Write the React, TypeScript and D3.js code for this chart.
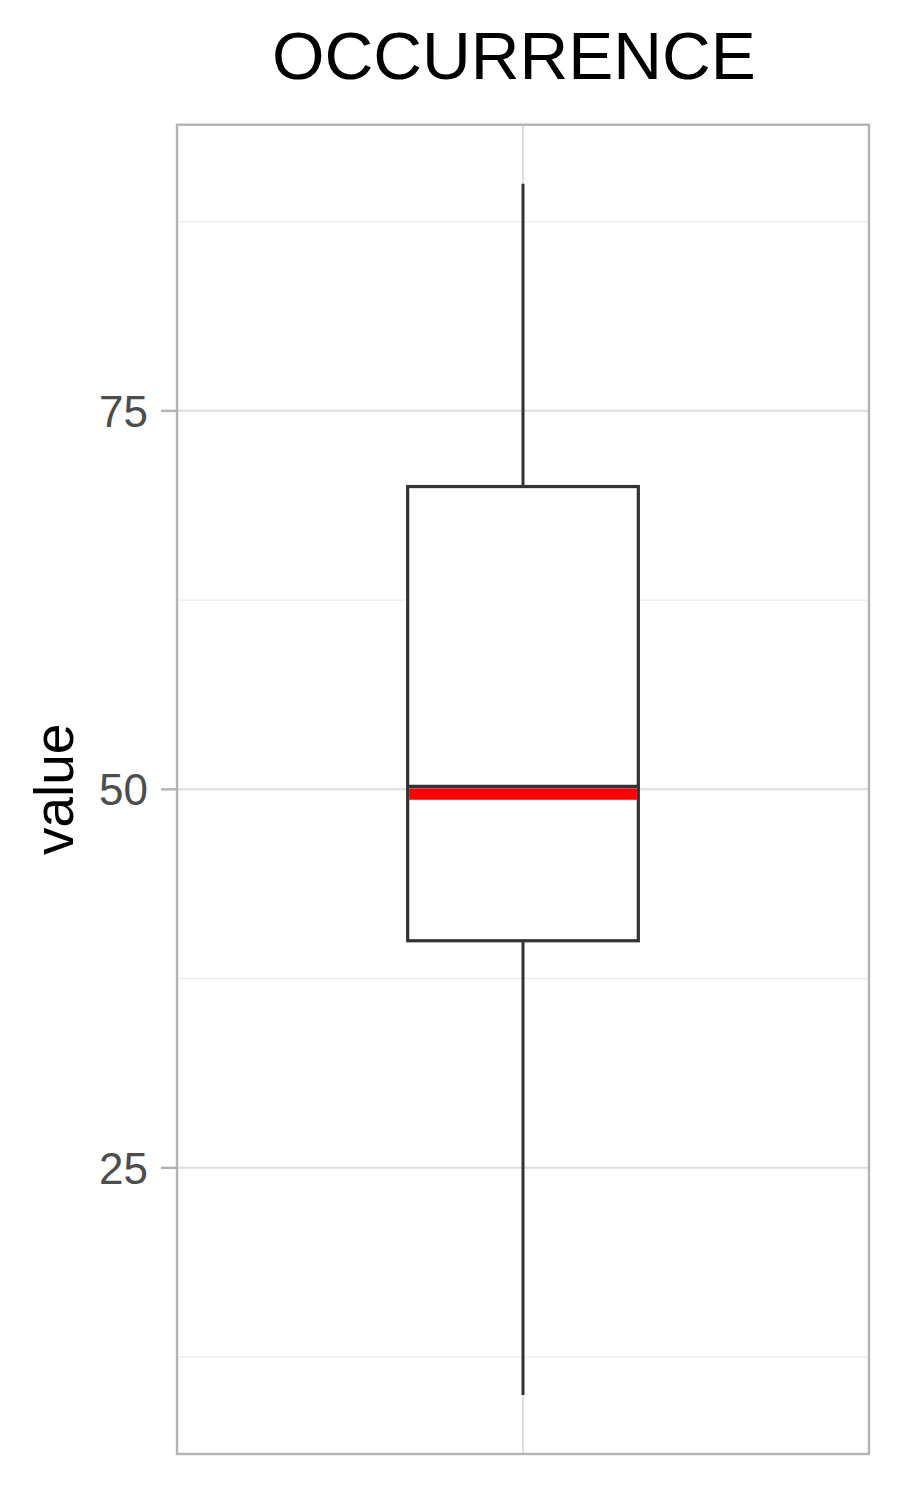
import React from "react";
import * as d3 from "d3";

const categories = ["OCCURRENCE"];
const whiskerLow = [10];
const q1 = [40];
const median = [50.2];
const q3 = [70];
const whiskerHigh = [90];
const meanValue = [49.7];
const yMajorTicks = [25, 50, 75];
const yMinorTicks = [12.5, 37.5, 62.5, 87.5];

const W = 900;
const H = 1500;
const panel = { left: 177, right: 869, top: 124.7, bottom: 1454 };
const FONT = "Liberation Sans, Arial, Helvetica, sans-serif";

export default function App() {
  const y = d3.scaleLinear().domain([6.1, 93.9]).range([panel.bottom, panel.top]);
  const x = d3.scaleLinear().domain([0.4, 1.6]).range([panel.left, panel.right]);
  const boxHalf = 0.2;

  return (
    <svg width={W} height={H} style={{ position: "absolute", left: 0, top: 0 }}>
      <rect x={0} y={0} width={W} height={H} fill="#ffffff" />
      <text x={514} y={79} textAnchor="middle" fontFamily={FONT} fontSize={67.5} fill="#000">
        {categories[0]}
      </text>
      {/* grid */}
      {yMinorTicks.map((t) => (
        <line key={"mn" + t} x1={panel.left} x2={panel.right} y1={y(t)} y2={y(t)} stroke="#ebebeb" strokeWidth={1.2} />
      ))}
      {yMajorTicks.map((t) => (
        <line key={"mj" + t} x1={panel.left} x2={panel.right} y1={y(t)} y2={y(t)} stroke="#dedede" strokeWidth={2} />
      ))}
      {categories.map((c, i) => (
        <line key={"vx" + c} x1={x(i + 1)} x2={x(i + 1)} y1={panel.top} y2={panel.bottom} stroke="#dedede" strokeWidth={2} />
      ))}
      {/* boxes */}
      {categories.map((c, i) => {
        const cx = x(i + 1);
        const xl = x(i + 1 - boxHalf);
        const xr = x(i + 1 + boxHalf);
        return (
          <g key={"box" + c}>
            <line x1={cx} x2={cx} y1={y(whiskerHigh[i])} y2={y(q3[i])} stroke="#333333" strokeWidth={3} />
            <line x1={cx} x2={cx} y1={y(q1[i])} y2={y(whiskerLow[i])} stroke="#333333" strokeWidth={3} />
            <rect x={xl} y={y(q3[i])} width={xr - xl} height={y(q1[i]) - y(q3[i])} fill="#ffffff" stroke="#333333" strokeWidth={3.2} />
            <line x1={xl} x2={xr} y1={y(median[i])} y2={y(median[i])} stroke="#333333" strokeWidth={3.2} />
            <line x1={xl + 1.5} x2={xr - 1.5} y1={y(meanValue[i])} y2={y(meanValue[i])} stroke="#ff0000" strokeWidth={11.5} />
          </g>
        );
      })}
      {/* panel border */}
      <rect x={panel.left} y={panel.top} width={panel.right - panel.left} height={panel.bottom - panel.top} fill="none" stroke="#b3b3b3" strokeWidth={2.4} />
      {/* y axis ticks */}
      {yMajorTicks.map((t) => (
        <g key={"yt" + t}>
          <line x1={panel.left - 16} x2={panel.left} y1={y(t)} y2={y(t)} stroke="#b3b3b3" strokeWidth={2.4} />
          <text x={148} y={y(t)} dy="0.36em" textAnchor="end" fontFamily={FONT} fontSize={44} fill="#4d4d4d">
            {t}
          </text>
        </g>
      ))}
      <text
        transform={`translate(73, ${(panel.top + panel.bottom) / 2}) rotate(-90)`}
        textAnchor="middle"
        fontFamily={FONT}
        fontSize={55}
        fill="#000"
      >
        value
      </text>
    </svg>
  );
}
